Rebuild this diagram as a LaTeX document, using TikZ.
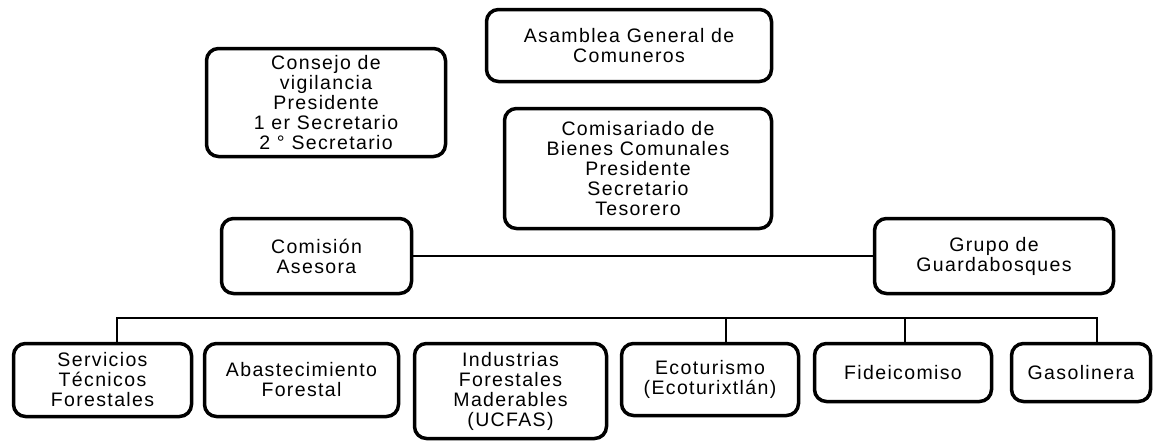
\documentclass[tikz,border=0pt]{standalone}
\usepackage{fontspec}
\setmainfont{Liberation Sans}[LetterSpace=7]
\begin{document}
\begin{tikzpicture}[x=1pt,y=-1pt,
  box/.style={draw=black, line width=3.5pt, rounded corners=12pt, align=center,
    inner sep=0pt, font=\fontsize{19.5}{20}\selectfont, text=black},
  link/.style={draw=black, line width=2.5pt}]
\useasboundingbox (0,0) rectangle (1155,442);
\node[box, minimum width=285, minimum height=72] (asm) at (629,45.5) {Asamblea General de\\Comuneros};
\node[box, minimum width=239, minimum height=108] (cons) at (326,102.5) {Consejo de\\vigilancia\\Presidente\\1 er Secretario\\2 ° Secretario};
\node[box, minimum width=267, minimum height=120] (comi) at (638,168.5) {Comisariado de\\Bienes Comunales\\Presidente\\Secretario\\Tesorero};
\node[box, minimum width=190, minimum height=75] (cas) at (316.5,256) {Comisión\\Asesora};
\node[box, minimum width=239, minimum height=75] (grp) at (994,256) {Grupo de\\Guardabosques};
\node[box, minimum width=178, minimum height=73] (serv) at (102.5,380) {Servicios\\Técnicos\\Forestales};
\node[box, minimum width=194, minimum height=73] (abas) at (301.5,380) {Abastecimiento\\Forestal};
\node[box, minimum width=192, minimum height=95] (ind) at (510.5,391) {Industrias\\Forestales\\Maderables\\(UCFAS)};
\node[box, minimum width=177, minimum height=72] (eco) at (710,379.5) {Ecoturismo\\(Ecoturixtlán)};
\node[box, minimum width=177, minimum height=58] (fid) at (903,372.5) {Fideicomiso};
\node[box, minimum width=139, minimum height=58] (gas) at (1081,372.5) {Gasolinera};
\coordinate (busL) at (117,318);
\coordinate (busR) at (1097,318);
\coordinate (dEco) at (726,318);
\coordinate (dFid) at (905,318);
\draw[link] (cas.east) -- (grp.west);
\draw[link] (busL |- serv.north) -- (busL) -- (busR) -- (busR |- gas.north);
\draw[link] (dEco) -- (dEco |- eco.north);
\draw[link] (dFid) -- (dFid |- fid.north);
\end{tikzpicture}
\end{document}
